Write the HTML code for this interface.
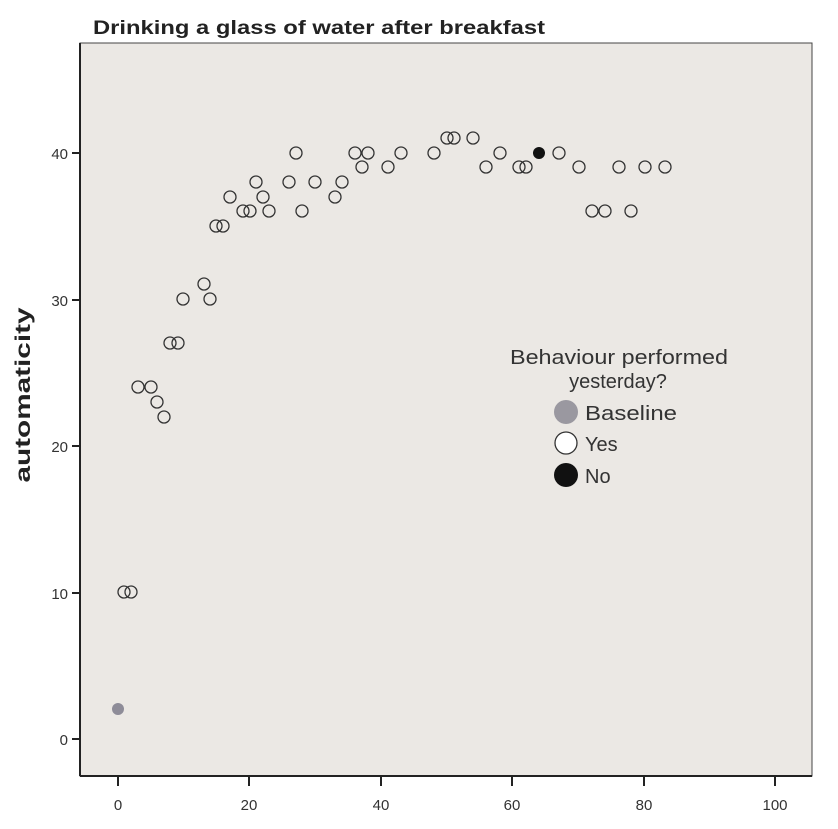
<!DOCTYPE html>
<html><head><meta charset="utf-8"><style>body{margin:0;background:#fff}svg{display:block}</style></head><body>
<svg width="838" height="829" xmlns="http://www.w3.org/2000/svg" font-family="Liberation Sans, sans-serif">
<rect width="838" height="829" fill="#fff"/>
<text x="93" y="34" font-size="19" font-weight="bold" fill="#222" textLength="452" lengthAdjust="spacingAndGlyphs">Drinking a glass of water after breakfast</text>
<rect x="80" y="43" width="732" height="733" fill="#ebe8e4" stroke="#444" stroke-width="1"/>
<line x1="80" y1="43" x2="80" y2="776" stroke="#222" stroke-width="2"/>
<line x1="80" y1="776" x2="812" y2="776" stroke="#222" stroke-width="2"/>
<g stroke="#222" stroke-width="2">
<line x1="72" y1="739" x2="80" y2="739"/><line x1="72" y1="593" x2="80" y2="593"/><line x1="72" y1="446" x2="80" y2="446"/><line x1="72" y1="300" x2="80" y2="300"/><line x1="72" y1="153" x2="80" y2="153"/>
<line x1="118" y1="776" x2="118" y2="786"/><line x1="249" y1="776" x2="249" y2="786"/><line x1="381" y1="776" x2="381" y2="786"/><line x1="512" y1="776" x2="512" y2="786"/><line x1="644" y1="776" x2="644" y2="786"/><line x1="775" y1="776" x2="775" y2="786"/>
</g>
<g font-size="15" fill="#333" text-anchor="end">
<text x="68" y="745">0</text><text x="68" y="599">10</text><text x="68" y="452">20</text><text x="68" y="306">30</text><text x="68" y="159">40</text>
</g>
<g font-size="15" fill="#333" text-anchor="middle">
<text x="118" y="810">0</text><text x="249" y="810">20</text><text x="381" y="810">40</text><text x="512" y="810">60</text><text x="644" y="810">80</text><text x="775" y="810">100</text>
</g>
<text transform="translate(30,395) rotate(-90)" font-size="21" font-weight="bold" text-anchor="middle" fill="#222" textLength="175" lengthAdjust="spacingAndGlyphs">automaticity</text>
<g fill="none" stroke="#333" stroke-width="1.3">
<circle cx="124" cy="592" r="6"/><circle cx="131" cy="592" r="6"/>
<circle cx="138" cy="387" r="6"/><circle cx="151" cy="387" r="6"/>
<circle cx="157" cy="402" r="6"/><circle cx="164" cy="417" r="6"/>
<circle cx="170" cy="343" r="6"/><circle cx="178" cy="343" r="6"/>
<circle cx="183" cy="299" r="6"/><circle cx="204" cy="284" r="6"/><circle cx="210" cy="299" r="6"/>
<circle cx="216" cy="226" r="6"/><circle cx="223" cy="226" r="6"/><circle cx="230" cy="197" r="6"/>
<circle cx="243" cy="211" r="6"/><circle cx="250" cy="211" r="6"/>
<circle cx="256" cy="182" r="6"/><circle cx="263" cy="197" r="6"/><circle cx="269" cy="211" r="6"/>
<circle cx="289" cy="182" r="6"/><circle cx="296" cy="153" r="6"/><circle cx="302" cy="211" r="6"/>
<circle cx="315" cy="182" r="6"/><circle cx="335" cy="197" r="6"/><circle cx="342" cy="182" r="6"/>
<circle cx="355" cy="153" r="6"/><circle cx="362" cy="167" r="6"/><circle cx="368" cy="153" r="6"/>
<circle cx="388" cy="167" r="6"/><circle cx="401" cy="153" r="6"/>
<circle cx="434" cy="153" r="6"/><circle cx="447" cy="138" r="6"/><circle cx="454" cy="138" r="6"/>
<circle cx="473" cy="138" r="6"/><circle cx="486" cy="167" r="6"/><circle cx="500" cy="153" r="6"/>
<circle cx="519" cy="167" r="6"/><circle cx="526" cy="167" r="6"/>
<circle cx="559" cy="153" r="6"/><circle cx="579" cy="167" r="6"/>
<circle cx="592" cy="211" r="6"/><circle cx="605" cy="211" r="6"/><circle cx="619" cy="167" r="6"/>
<circle cx="631" cy="211" r="6"/><circle cx="645" cy="167" r="6"/><circle cx="665" cy="167" r="6"/>
</g>
<circle cx="118" cy="709" r="6" fill="#8e8c98"/>
<circle cx="539" cy="153" r="6" fill="#111"/>
<g font-size="20" fill="#333">
<text x="510" y="364" textLength="218" lengthAdjust="spacingAndGlyphs">Behaviour performed</text>
<text x="618" y="388" text-anchor="middle">yesterday?</text>
<circle cx="566" cy="412" r="12" fill="#9a98a0"/>
<text x="585" y="420" textLength="92" lengthAdjust="spacingAndGlyphs">Baseline</text>
<circle cx="566" cy="443" r="11" fill="#fff" stroke="#333" stroke-width="1.3"/>
<text x="585" y="451">Yes</text>
<circle cx="566" cy="475" r="12" fill="#111"/>
<text x="585" y="483">No</text>
</g>
</svg>
</body></html>
